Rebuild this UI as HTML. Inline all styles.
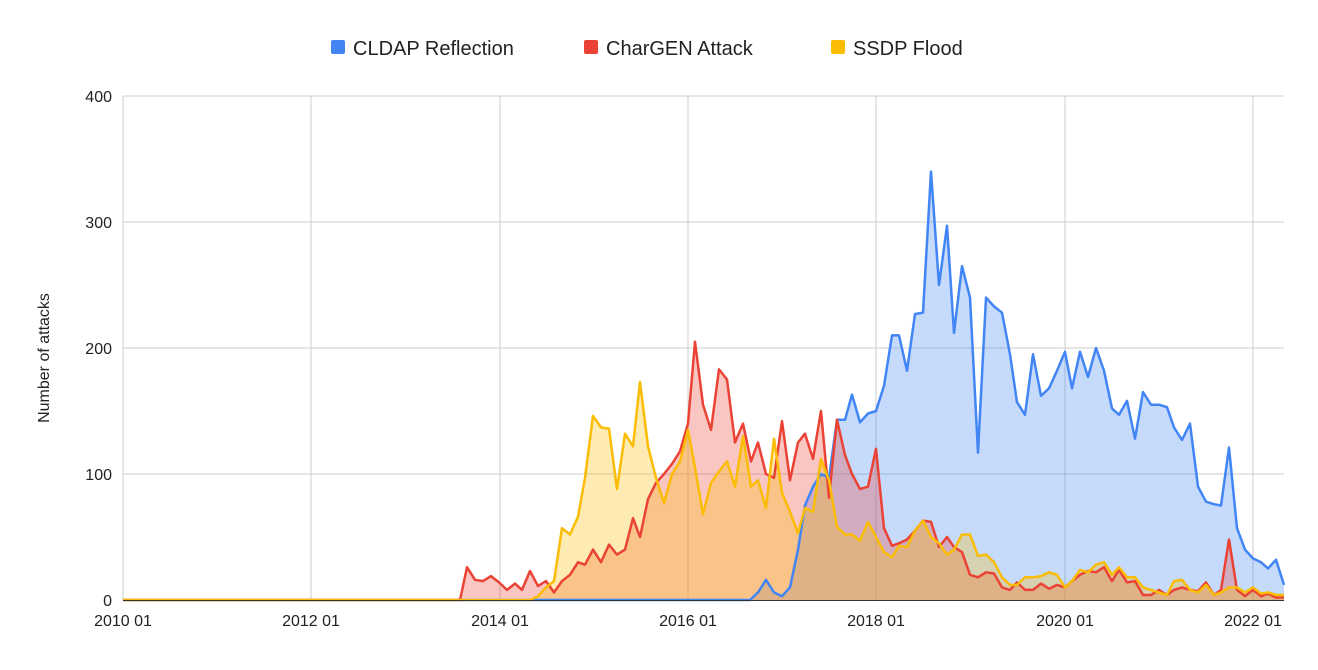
<!DOCTYPE html>
<html><head><meta charset="utf-8"><style>
body{margin:0;background:#fff;}
svg text{font-family:"Liberation Sans",Arial,sans-serif;fill:#222;}
</style></head><body>
<svg id="c" width="1318" height="665" xmlns="http://www.w3.org/2000/svg">
<rect width="1318" height="665" fill="#fff"/>
<g stroke="#cccccc" stroke-width="1">
<line x1="123" y1="96" x2="1284" y2="96"/>
<line x1="123" y1="222" x2="1284" y2="222"/>
<line x1="123" y1="348" x2="1284" y2="348"/>
<line x1="123" y1="474" x2="1284" y2="474"/>
<line x1="123" y1="96" x2="123" y2="600"/>
<line x1="311" y1="96" x2="311" y2="600"/>
<line x1="500" y1="96" x2="500" y2="600"/>
<line x1="688" y1="96" x2="688" y2="600"/>
<line x1="876" y1="96" x2="876" y2="600"/>
<line x1="1065" y1="96" x2="1065" y2="600"/>
<line x1="1253" y1="96" x2="1253" y2="600"/>
</g>
<g id="series"></g>
<line x1="123" y1="600.5" x2="1284" y2="600.5" stroke="#333" stroke-width="1"/>
<g font-size="16" text-anchor="end">
<text x="112" y="102">400</text><text x="112" y="228">300</text><text x="112" y="354">200</text><text x="112" y="480">100</text><text x="112" y="606">0</text>
</g>
<g font-size="16" text-anchor="middle">
<text x="123" y="626">2010 01</text><text x="311" y="626">2012 01</text><text x="500" y="626">2014 01</text><text x="688" y="626">2016 01</text><text x="876" y="626">2018 01</text><text x="1065" y="626">2020 01</text><text x="1253" y="626">2022 01</text>
</g>
<text x="49" y="358" font-size="16" text-anchor="middle" transform="rotate(-90 49 358)">Number of attacks</text>
<rect x="331" y="40" width="14" height="14" rx="2" fill="#4285f4"/>
<text x="353" y="55" font-size="20">CLDAP Reflection</text>
<rect x="584" y="40" width="14" height="14" rx="2" fill="#ea4335"/>
<text x="606" y="55" font-size="20">CharGEN Attack</text>
<rect x="831" y="40" width="14" height="14" rx="2" fill="#fbbc04"/>
<text x="853" y="55" font-size="20">SSDP Flood</text>
</svg>
<script>
const Y=v=>600-v*1.26;
const red=[[123,0],[460,0],[467,26],[475,16],[483,15],[491,19],[499,14],[507,8],[515,13],[522,8],[530,23],[538,11],[546,15],[554,6],[562,15],[570,20],[578,30],[585,28],[593,40],[601,30],[609,44],[617,36],[625,40],[633,65],[640,50],[648,80],[656,93],[664,100],[672,108],[680,118],[688,140],[695,205],[703,155],[711,135],[719,183],[727,175],[735,125],[743,140],[751,110],[758,125],[766,100],[774,97],[782,142],[790,95],[798,125],[805,132],[813,112],[821,150],[829,81],[837,143],[845,115],[852,100],[860,88],[868,90],[876,120],[884,57],[892,43],[899,45],[907,48],[915,55],[923,63],[931,62],[939,42],[947,50],[954,42],[962,38],[970,20],[978,18],[986,22],[994,21],[1002,10],[1010,8],[1017,14],[1025,8],[1033,8],[1041,13],[1049,9],[1057,12],[1065,10],[1072,15],[1080,20],[1088,23],[1096,22],[1104,26],[1112,15],[1119,24],[1127,14],[1135,15],[1143,4],[1151,4],[1159,8],[1167,4],[1174,8],[1182,10],[1190,8],[1198,7],[1206,14],[1214,4],[1221,8],[1229,48],[1237,8],[1245,3],[1253,8],[1261,3],[1268,5],[1276,2],[1284,2]];
const yel=[[123,0],[530,0],[538,3],[546,10],[554,15],[562,57],[570,52],[578,66],[585,97],[593,146],[601,137],[609,136],[617,88],[625,132],[633,122],[640,173],[648,122],[656,97],[664,77],[672,100],[680,110],[688,135],[695,105],[703,68],[711,93],[719,102],[727,110],[735,90],[743,130],[751,90],[758,95],[766,73],[774,128],[782,85],[790,70],[798,53],[805,73],[813,70],[821,112],[829,95],[837,58],[845,52],[852,52],[860,47],[868,62],[876,50],[884,38],[892,34],[899,43],[907,42],[915,55],[923,63],[931,50],[939,45],[947,36],[954,40],[962,52],[970,52],[978,35],[986,36],[994,30],[1002,18],[1010,12],[1017,12],[1025,18],[1033,18],[1041,19],[1049,22],[1057,20],[1065,10],[1072,15],[1080,24],[1088,22],[1096,28],[1104,30],[1112,20],[1119,26],[1127,18],[1135,18],[1143,10],[1151,8],[1159,6],[1167,4],[1174,15],[1182,16],[1190,8],[1198,6],[1206,12],[1214,4],[1221,6],[1229,10],[1237,10],[1245,6],[1253,10],[1261,5],[1268,6],[1276,4],[1284,4]];
const blu=[[123,0],[750,0],[758,6],[766,16],[774,6],[782,3],[790,10],[798,40],[805,75],[813,90],[821,100],[829,97],[837,143],[845,143],[852,163],[860,141],[868,148],[876,150],[884,170],[892,210],[899,210],[907,182],[915,227],[923,228],[931,340],[939,250],[947,297],[954,212],[962,265],[970,240],[978,117],[986,240],[994,233],[1002,228],[1010,195],[1017,157],[1025,147],[1033,195],[1041,162],[1049,168],[1057,182],[1065,197],[1072,168],[1080,197],[1088,177],[1096,200],[1104,182],[1112,152],[1119,147],[1127,158],[1135,128],[1143,165],[1151,155],[1159,155],[1167,153],[1174,137],[1182,127],[1190,140],[1198,90],[1206,78],[1214,76],[1221,75],[1229,121],[1237,57],[1245,40],[1253,33],[1261,30],[1268,25],[1276,32],[1284,12]];
const g=document.getElementById('series');let s='';
for(const [d,c] of [[blu,'#4285f4'],[red,'#ea4335'],[yel,'#fbbc04']]){
 const pts=d.map(p=>p[0]+','+Y(p[1]).toFixed(1)).join(' ');
 s+=`<polygon points="123,600 ${pts} 1284,600" fill="${c}" fill-opacity="0.3"/>`;
}
for(const [d,c] of [[blu,'#4285f4'],[red,'#ea4335'],[yel,'#fbbc04']]){
 const pts=d.map(p=>p[0]+','+Y(p[1]).toFixed(1)).join(' ');
 s+=`<polyline points="${pts}" fill="none" stroke="${c}" stroke-width="2.5" stroke-linejoin="round"/>`;
}
g.innerHTML=s;
</script>
</body></html>
